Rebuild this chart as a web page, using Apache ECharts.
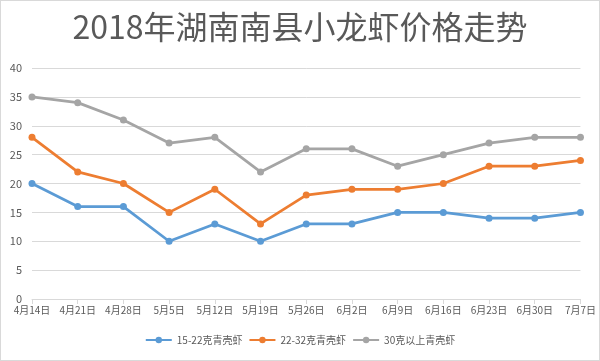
<!DOCTYPE html>
<html><head><meta charset="utf-8">
<script src="https://cdn.jsdelivr.net/npm/echarts@6/dist/echarts.min.js"></script>
<style>html,body{margin:0;padding:0;background:#fff}#c{width:600px;height:361px;box-sizing:border-box;border:1px solid #d9d9d9}</style>
</head><body><div id="c"></div>
<script>
const categories = ['4月14日','4月21日','4月28日','5月5日','5月12日','5月19日','5月26日','6月2日','6月9日','6月16日','6月23日','6月30日','7月7日'];
const seriesNames = ['15-22克青壳虾','22-32克青壳虾','30克以上青壳虾'];
const s1 = [20,16,16,10,13,10,13,13,15,15,14,14,15];
const s2 = [28,22,20,15,19,13,18,19,19,20,23,23,24];
const s3 = [35,34,31,27,28,22,26,26,23,25,27,28,28];
const colors = ['#5B9BD5','#ED7D31','#A5A5A5'];
const font = '"Microsoft YaHei","Noto Sans CJK SC",sans-serif';
const chart = echarts.init(document.getElementById('c'));
const mk = (name, data, color) => ({
  name, type:'line', data, color,
  symbol:'circle', symbolSize:7,
  lineStyle:{width:2.75, color}, itemStyle:{color}
});
chart.setOption({
  animation:false,
  title:{text:'2018年湖南南县小龙虾价格走势', left:'center', top:5,
    textStyle:{fontSize:32, fontWeight:'normal', color:'#595959', fontFamily:font}},
  legend:{bottom:10, left:'center', itemWidth:26, itemHeight:8, itemGap:6,
    textStyle:{fontSize:10, color:'#595959', fontFamily:font},
    data:seriesNames},
  grid:{left:31, right:17, top:67, bottom:61},
  xAxis:{type:'category', data:categories, boundaryGap:false,
    axisLine:{lineStyle:{color:'#d9d9d9'}},
    axisTick:{show:true, lineStyle:{color:'#d9d9d9'}},
    axisLabel:{fontSize:10, color:'#595959', fontFamily:font, interval:0, margin:6}},
  yAxis:{type:'value', min:0, max:40, interval:5,
    axisLine:{show:false}, axisTick:{show:false},
    splitLine:{lineStyle:{color:'#d9d9d9'}},
    axisLabel:{fontSize:11, color:'#595959', fontFamily:font, margin:10}},
  series:[mk(seriesNames[0],s1,colors[0]), mk(seriesNames[1],s2,colors[1]), mk(seriesNames[2],s3,colors[2])]
});
</script></body></html>
